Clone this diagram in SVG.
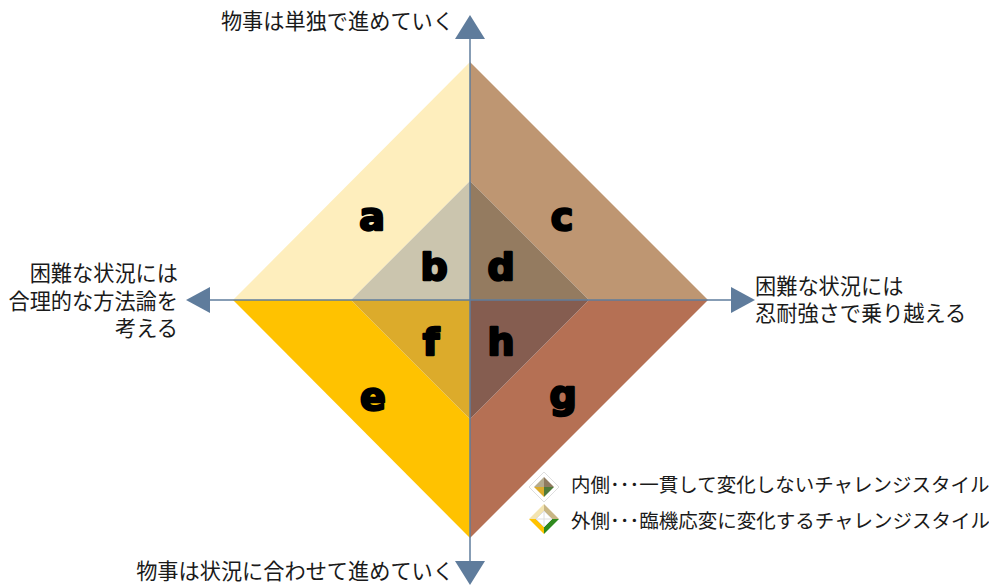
<svg xmlns="http://www.w3.org/2000/svg" width="989" height="585" viewBox="0 0 989 585">
<style>
.t{font-family:"Noto Sans CJK JP","Noto Sans",sans-serif;font-size:21.2px;fill:#1a1a1a}
.e{text-anchor:end}
.k{font-family:"DejaVu Sans",sans-serif;font-weight:bold;font-size:38px;fill:#000;stroke:#000;stroke-width:2.4px;stroke-linejoin:round;text-anchor:middle}
.l{font-family:"Noto Sans CJK JP","Noto Sans",sans-serif;font-size:19.5px;fill:#1a1a1a}
.ax{stroke:#5f7c9c;stroke-width:1.5;fill:none}
.ah{fill:#5f7c9c}
.g{stroke:#dedede;stroke-width:1;fill:none}
</style>
<rect width="989" height="585" fill="#fff"/>
<g id="quadrants">
<polygon id="q-a" points="470,62 470,181 351,300 233,300" fill="#feeebd"/>
<polygon id="q-b" points="470,181 470,300 351,300" fill="#cbc5ae"/>
<polygon id="q-c" points="470,62 708,300 589,300 470,181" fill="#be9672"/>
<polygon id="q-d" points="470,181 589,300 470,300" fill="#947b60"/>
<polygon id="q-e" points="233,300 351,300 470,419 470,538" fill="#ffc200"/>
<polygon id="q-f" points="351,300 470,300 470,419" fill="#dcab2b"/>
<polygon id="q-g" points="708,300 589,300 470,419 470,538" fill="#b57054"/>
<polygon id="q-h" points="470,300 589,300 470,419" fill="#855d50"/>
</g>
<g id="connectors">
<line class="ax" x1="470" y1="38" x2="470" y2="562"/>
<line class="ax" x1="210" y1="300" x2="732" y2="300"/>
<polygon class="ah" points="470,15 485,39 455,39"/>
<polygon class="ah" points="470,585 485,561 455,561"/>
<polygon class="ah" points="186,300 210,287 210,313"/>
<polygon class="ah" points="755,300 731,287 731,313"/>
</g>
<g id="letters">
<text class="k" x="372" y="230">a</text>
<text class="k" x="434" y="280">b</text>
<text class="k" x="562" y="230">c</text>
<text class="k" x="501" y="280">d</text>
<text class="k" x="373" y="410">e</text>
<text class="k" x="431" y="355">f</text>
<text class="k" x="563" y="408">g</text>
<text class="k" x="501" y="355">h</text>
</g>
<g id="labels">
<text class="t e" x="454" y="29">物事は単独で進めていく</text>
<text class="t e" x="454" y="579">物事は状況に合わせて進めていく</text>
<text class="t e" x="178" y="281">困難な状況には</text>
<text class="t e" x="178" y="309">合理的な方法論を</text>
<text class="t e" x="178" y="336">考える</text>
<text class="t" x="755" y="294">困難な状況には</text>
<text class="t" x="755" y="321">忍耐強さで乗り越える</text>
</g>
<g id="legend-inner">
<polygon class="g" points="544,472 559,487 544,502 529,487"/>
<polygon points="544,477 544,487 534,487" fill="#b5ab8e"/>
<polygon points="544,477 554,487 544,487" fill="#8f7a5f"/>
<polygon points="534,487 544,487 544,497" fill="#dcab2b"/>
<polygon points="554,487 544,487 544,497" fill="#4f7a3a"/>
<text class="l" x="571" y="492">内側･･･一貫して変化しないチャレンジスタイル</text>
</g>
<g id="legend-outer">
<polygon points="544,504 544,511 536,519 529,519" fill="#f3e4b0"/>
<polygon points="544,504 559,519 552,519 544,511" fill="#c9b685"/>
<polygon points="529,519 536,519 544,527 544,534" fill="#ffc200"/>
<polygon points="559,519 552,519 544,527 544,534" fill="#2f8a1e"/>
<polygon class="g" points="544,511 552,519 544,527 536,519"/>
<line class="g" x1="544" y1="511" x2="544" y2="527"/>
<line class="g" x1="536" y1="519" x2="552" y2="519"/>
<text class="l" x="571" y="528">外側･･･臨機応変に変化するチャレンジスタイル</text>
</g>
</svg>
